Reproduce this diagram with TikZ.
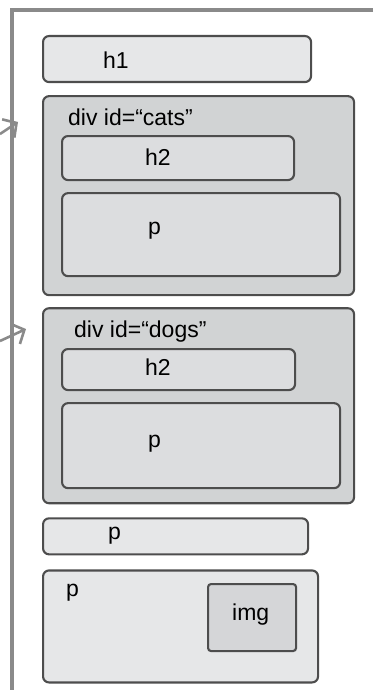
\documentclass[tikz,border=0pt]{standalone}
\usepackage{fontspec}
\setmainfont{Liberation Sans}
\usetikzlibrary{positioning,arrows.meta,calc}
\definecolor{paper}{HTML}{E6E7E8}
\definecolor{groupgrey}{HTML}{D1D3D4}
\definecolor{innergrey}{HTML}{DCDDDF}
\definecolor{imggrey}{HTML}{D5D6D8}
\definecolor{edge}{HTML}{4D4D4D}
\definecolor{rimgrey}{HTML}{8A8A8A}

\begin{document}
\begin{tikzpicture}[
  x=1pt, y=-1pt,
  font=\fontsize{23}{27}\selectfont,
  blk/.style={draw=edge, line width=2.1pt, rounded corners=6pt, fill=paper,
              inner sep=0pt, anchor=north west},
  grp/.style={blk, fill=groupgrey},
  inbox/.style={blk, fill=innergrey},
  imgbox/.style={blk, fill=imggrey, rounded corners=3pt},
  lbl/.style={inner sep=0pt, anchor=base west, text=black},
  rim/.style={draw=rimgrey, line width=3.2pt},
  ptr/.style={draw=rimgrey, line width=2.6pt, -{Straight Barb[length=10pt, width=22pt]}}
]
\useasboundingbox (0,0) rectangle (373,690);

% page frame
\coordinate (ftr) at (373,10);
\coordinate (ftl) at (12,10);
\coordinate (fbl) at (12,690);
\draw[rim] (ftr) -- (ftl) -- (fbl);

% incoming links
\coordinate (l1) at (0,134);
\coordinate (t1) at (18,122);
\coordinate (l2) at (0,341);
\coordinate (t2) at (26,329);
\draw[ptr] (l1) -- (t1);
\draw[ptr] (l2) -- (t2);

% blocks
\node[blk, minimum width=268pt, minimum height=46pt] (h1) at (42,35) {};
\node[grp, minimum width=311pt, minimum height=199pt,
      below=12pt of h1.south west, anchor=north west] (cats) {};
\node[inbox, minimum width=232pt, minimum height=44pt] (h2c) at (61,135) {};
\node[inbox, minimum width=278pt, minimum height=83pt,
      below=11pt of h2c.south west, anchor=north west] (pc) {};
\node[grp, minimum width=311pt, minimum height=195pt,
      below=11pt of cats.south west, anchor=north west] (dogs) {};
\node[inbox, minimum width=233pt, minimum height=41pt] (h2d) at (61,348) {};
\node[inbox, minimum width=278pt, minimum height=85pt,
      below=11pt of h2d.south west, anchor=north west] (pd) {};
\node[blk, minimum width=265pt, minimum height=36pt,
      below=13pt of dogs.south west, anchor=north west] (ps) {};
\node[blk, minimum width=275pt, minimum height=112pt,
      below=14pt of ps.south west, anchor=north west] (pi) {};
\node[imgbox, minimum width=88pt, minimum height=67pt] (img) at (207,583) {};

% texts
\node[lbl] (h1t) at ($(h1.north west)+(61,34)$) {h1};
\node[lbl] (catst) at ($(cats.north west)+(26,30)$) {div id=“cats”};
\node[lbl] (h2ct) at ($(h2c.north west)+(84,30)$) {h2};
\node[lbl] (pct) at ($(pc.north west)+(87,42)$) {p};
\node[lbl] (dogst) at ($(dogs.north west)+(32,30)$) {div id=“dogs”};
\node[lbl] (h2dt) at ($(h2d.north west)+(84,27)$) {h2};
\node[lbl] (pdt) at ($(pd.north west)+(87,45)$) {p};
\node[lbl] (pst) at ($(ps.north west)+(66,22)$) {p};
\node[lbl] (pit) at ($(pi.north west)+(24,27)$) {p};
\node[lbl] (imgt) at ($(img.north west)+(25,37)$) {img};
\end{tikzpicture}
\end{document}
